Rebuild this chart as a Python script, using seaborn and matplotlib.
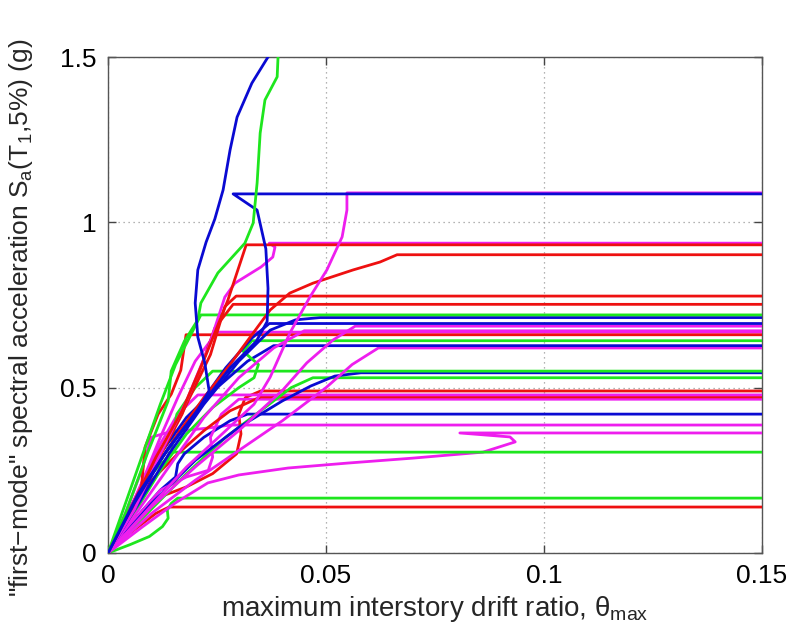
import matplotlib
matplotlib.use("Agg")
import matplotlib.pyplot as plt
import seaborn as sns
import pandas as pd

# ---- IDA curves: maximum interstory drift (theta) vs Sa(T1,5%) in g ----
# each curve is traced up to its last converged run, then flatlined (collapse)
b1_theta = [0, 0.006, 0.013, 0.021, 0.028, 0.034, 0.0365, 0.0367, 0.0362, 0.0342, 0.0287]
b1_sa = [0, 0.15, 0.30, 0.44, 0.56, 0.64, 0.70, 0.80, 0.92, 1.037, 1.086]
b2_theta = [0, 0.007, 0.014, 0.020, 0.0232, 0.0222, 0.0206, 0.0200, 0.0206, 0.0225, 0.0245,
            0.0264, 0.0280, 0.0296, 0.0330, 0.0367, 0.0380]
b2_sa = [0, 0.18, 0.32, 0.42, 0.49, 0.575, 0.653, 0.756, 0.856, 0.94, 1.01,
         1.098, 1.219, 1.318, 1.421, 1.50, 1.53]
b3_theta = [0, 0.007, 0.014, 0.022, 0.030, 0.0372, 0.043, 0.0486]
b3_sa = [0, 0.15, 0.30, 0.45, 0.58, 0.674, 0.705, 0.712]
b4_theta = [0, 0.006, 0.012, 0.020, 0.027, 0.033, 0.037]
b4_sa = [0, 0.14, 0.28, 0.43, 0.56, 0.65, 0.694]
b5_theta = [0, 0.006, 0.012, 0.018, 0.025, 0.032, 0.038]
b5_sa = [0, 0.16, 0.30, 0.41, 0.50, 0.58, 0.627]
b6_theta = [0, 0.010, 0.020, 0.030, 0.040, 0.0465, 0.052, 0.058]
b6_sa = [0, 0.15, 0.28, 0.38, 0.46, 0.505, 0.535, 0.545]
b7_theta = [0, 0.006, 0.012, 0.0155, 0.016, 0.0175, 0.022, 0.028, 0.032]
b7_sa = [0, 0.10, 0.19, 0.23, 0.27, 0.30, 0.35, 0.40, 0.42]

g1_theta = [0, 0.004, 0.009, 0.0138, 0.0145, 0.0175, 0.0206, 0.0213, 0.0252, 0.0314, 0.0333,
            0.0342, 0.0349, 0.0360, 0.0388, 0.0390, 0.0392]
g1_sa = [0, 0.12, 0.30, 0.46, 0.55, 0.64, 0.705, 0.756, 0.847, 0.937, 0.998,
         1.119, 1.27, 1.37, 1.44, 1.50, 1.53]
g2_theta = [0, 0.004, 0.008, 0.012, 0.0155, 0.019, 0.0213]
g2_sa = [0, 0.15, 0.30, 0.45, 0.57, 0.66, 0.72]
g3_theta = [0, 0.006, 0.012, 0.018, 0.024, 0.030, 0.0335, 0.0345, 0.031, 0.033]
g3_sa = [0, 0.12, 0.25, 0.36, 0.44, 0.50, 0.53, 0.57, 0.61, 0.642]
g4_theta = [0, 0.005, 0.010, 0.0145, 0.015, 0.0158, 0.020, 0.024]
g4_sa = [0, 0.12, 0.24, 0.30, 0.36, 0.42, 0.50, 0.55]
g5_theta = [0, 0.009, 0.018, 0.027, 0.036, 0.042, 0.047]
g5_sa = [0, 0.12, 0.24, 0.35, 0.44, 0.50, 0.53]
g6_theta = [0, 0.004, 0.008, 0.012, 0.0142]
g6_sa = [0, 0.08, 0.17, 0.25, 0.305]
g7_theta = [0, 0.005, 0.0095, 0.0125, 0.0138, 0.0136, 0.0145, 0.016]
g7_sa = [0, 0.025, 0.05, 0.08, 0.105, 0.13, 0.15, 0.166]

r1_theta = [0, 0.005, 0.011, 0.017, 0.0225, 0.0275, 0.0317]
r1_sa = [0, 0.13, 0.29, 0.43, 0.60, 0.765, 0.932]
r2_theta = [0, 0.005, 0.010, 0.016, 0.022, 0.028, 0.033, 0.0372, 0.0417, 0.047, 0.0562,
            0.0624, 0.0663]
r2_sa = [0, 0.12, 0.24, 0.36, 0.47, 0.57, 0.66, 0.735, 0.786, 0.816, 0.856, 0.88, 0.902]
r3_theta = [0, 0.006, 0.012, 0.018, 0.0235, 0.0268, 0.0294]
r3_sa = [0, 0.14, 0.30, 0.45, 0.60, 0.745, 0.777]
r4_theta = [0, 0.005, 0.011, 0.017, 0.021, 0.0245, 0.0287]
r4_sa = [0, 0.12, 0.27, 0.42, 0.55, 0.68, 0.752]
r5_theta = [0, 0.006, 0.012, 0.018, 0.024, 0.0295, 0.0305, 0.030, 0.0315, 0.035]
r5_sa = [0, 0.10, 0.17, 0.20, 0.24, 0.30, 0.36, 0.42, 0.47, 0.49]
r6_theta = [0, 0.0076, 0.0085, 0.0115, 0.0145, 0.0167, 0.0179]
r6_sa = [0, 0.19, 0.32, 0.42, 0.48, 0.553, 0.66]
r7_theta = [0, 0.005, 0.010, 0.016, 0.022, 0.028, 0.035]
r7_sa = [0, 0.12, 0.22, 0.30, 0.37, 0.43, 0.472]
r8_theta = [0, 0.004, 0.008, 0.011, 0.014]
r8_sa = [0, 0.05, 0.09, 0.12, 0.139]

m1_theta = [0, 0.009, 0.018, 0.027, 0.0335, 0.0372, 0.0417, 0.0463, 0.0502, 0.0537, 0.0548, 0.0548]
m1_sa = [0, 0.13, 0.26, 0.37, 0.45, 0.532, 0.665, 0.774, 0.856, 0.956, 1.037, 1.089]
m2_theta = [0, 0.006, 0.012, 0.018, 0.023, 0.0268, 0.0291, 0.0351, 0.0378, 0.0383, 0.0370]
m2_sa = [0, 0.13, 0.30, 0.46, 0.62, 0.774, 0.816, 0.865, 0.895, 0.925, 0.937]
m3_theta = [0, 0.010, 0.020, 0.030, 0.0401, 0.0456, 0.0516, 0.0567]
m3_sa = [0, 0.14, 0.26, 0.37, 0.493, 0.575, 0.644, 0.686]
m4_theta = [0, 0.007, 0.015, 0.022, 0.030, 0.038, 0.045]
m4_sa = [0, 0.13, 0.28, 0.41, 0.53, 0.62, 0.672]
m5_theta = [0, 0.010, 0.020, 0.030, 0.040, 0.050, 0.056, 0.062]
m5_sa = [0, 0.12, 0.22, 0.31, 0.40, 0.50, 0.57, 0.62]
m6_theta = [0, 0.004, 0.008, 0.012, 0.016, 0.0206]
m6_sa = [0, 0.10, 0.22, 0.33, 0.42, 0.478]
m7_theta = [0, 0.006, 0.012, 0.018, 0.023, 0.024, 0.0235, 0.026, 0.030]
m7_sa = [0, 0.10, 0.19, 0.23, 0.25, 0.29, 0.35, 0.42, 0.465]
m8_theta = [0, 0.004, 0.008, 0.0099, 0.0138, 0.023, 0.028]
m8_sa = [0, 0.12, 0.26, 0.35, 0.365, 0.378, 0.387]
m9_theta = [0, 0.008, 0.0154, 0.0229, 0.030, 0.0413, 0.055, 0.070, 0.086, 0.0934, 0.0922, 0.0807]
m9_sa = [0, 0.08, 0.151, 0.212, 0.236, 0.257, 0.272, 0.287, 0.305, 0.336, 0.351, 0.363]
m10_theta = [0, 0.004, 0.008, 0.012, 0.016, 0.020, 0.025]
m10_sa = [0, 0.10, 0.22, 0.35, 0.47, 0.58, 0.668]

x_ticks = [0, 0.05, 0.1, 0.15]
x_tick_labels = ["0", "0.05", "0.1", "0.15"]
y_ticks = [0, 0.5, 1.0, 1.5]
y_tick_labels = ["0", "0.5", "1", "1.5"]

line_colors = {"r": "#EE1010", "g": "#1EE61E", "b": "#0A0AD2", "m": "#EE1EEE"}

curves = [
    ("r", r8_theta, r8_sa), ("g", g7_theta, g7_sa), ("m", m9_theta, m9_sa),
    ("g", g6_theta, g6_sa), ("m", m8_theta, m8_sa), ("b", b7_theta, b7_sa),
    ("r", r5_theta, r5_sa), ("m", m7_theta, m7_sa), ("r", r7_theta, r7_sa),
    ("m", m6_theta, m6_sa), ("g", g5_theta, g5_sa), ("b", b6_theta, b6_sa),
    ("g", g4_theta, g4_sa), ("m", m5_theta, m5_sa), ("b", b5_theta, b5_sa),
    ("g", g3_theta, g3_sa), ("m", m10_theta, m10_sa), ("r", r6_theta, r6_sa),
    ("m", m4_theta, m4_sa), ("m", m3_theta, m3_sa), ("b", b4_theta, b4_sa),
    ("b", b3_theta, b3_sa), ("g", g2_theta, g2_sa), ("r", r4_theta, r4_sa),
    ("r", r3_theta, r3_sa), ("r", r2_theta, r2_sa), ("m", m2_theta, m2_sa),
    ("r", r1_theta, r1_sa), ("m", m1_theta, m1_sa), ("b", b1_theta, b1_sa),
    ("g", g1_theta, g1_sa), ("b", b2_theta, b2_sa),
]

sns.set_theme(style="white")
plt.rcParams["font.family"] = ["Liberation Sans", "DejaVu Sans"]
plt.rcParams["mathtext.fontset"] = "custom"
plt.rcParams["mathtext.rm"] = "Liberation Sans"
plt.rcParams["mathtext.it"] = "Liberation Sans:italic"

fig = plt.figure(figsize=(7.92, 6.38), dpi=100)
ax = fig.add_axes([108 / 792, 1 - 553 / 638, 654 / 792, 496 / 638])

x_max = x_ticks[-1]
for key, th, sa in curves:
    th_full = list(th)
    sa_full = list(sa)
    if sa[-1] <= y_ticks[-1]:
        # collapse: flatline from the last converged run
        th_full.append(x_max)
        sa_full.append(sa[-1])
    df = pd.DataFrame({"theta": th_full, "Sa": sa_full})
    sns.lineplot(data=df, x="theta", y="Sa", sort=False, estimator=None,
                 color=line_colors[key], linewidth=2.0, ax=ax, zorder=3,
                 solid_joinstyle="round", solid_capstyle="round")

ax.set_xlim(0, 0.15)
ax.set_ylim(0, 1.5)
ax.set_xticks(x_ticks)
ax.set_xticklabels(x_tick_labels)
ax.set_yticks(y_ticks)
ax.set_yticklabels(y_tick_labels)
ax.grid(True, color="#9a9a9a", linestyle=(0, (1, 3)), linewidth=0.9)
ax.set_axisbelow(True)
ax.tick_params(direction="in", length=6, width=1.0, color="#444444",
               top=True, right=True, bottom=True, left=True,
               labelsize=19, pad=8, labelcolor="black")
for sp in ax.spines.values():
    sp.set_color("#555555")
    sp.set_linewidth(1.0)

ax.set_xlabel(r"maximum interstory drift ratio, θ$_{\mathrm{max}}$", fontsize=20, labelpad=4)
ax.set_ylabel(r'"first$-$mode" spectral acceleration S$_{\mathrm{a}}$(T$_{\mathrm{1}}$,5%) (g)',
              fontsize=19)
ax.yaxis.set_label_coords(-0.112, 0.475)

fig.savefig("out.png", dpi=100, facecolor="white")
